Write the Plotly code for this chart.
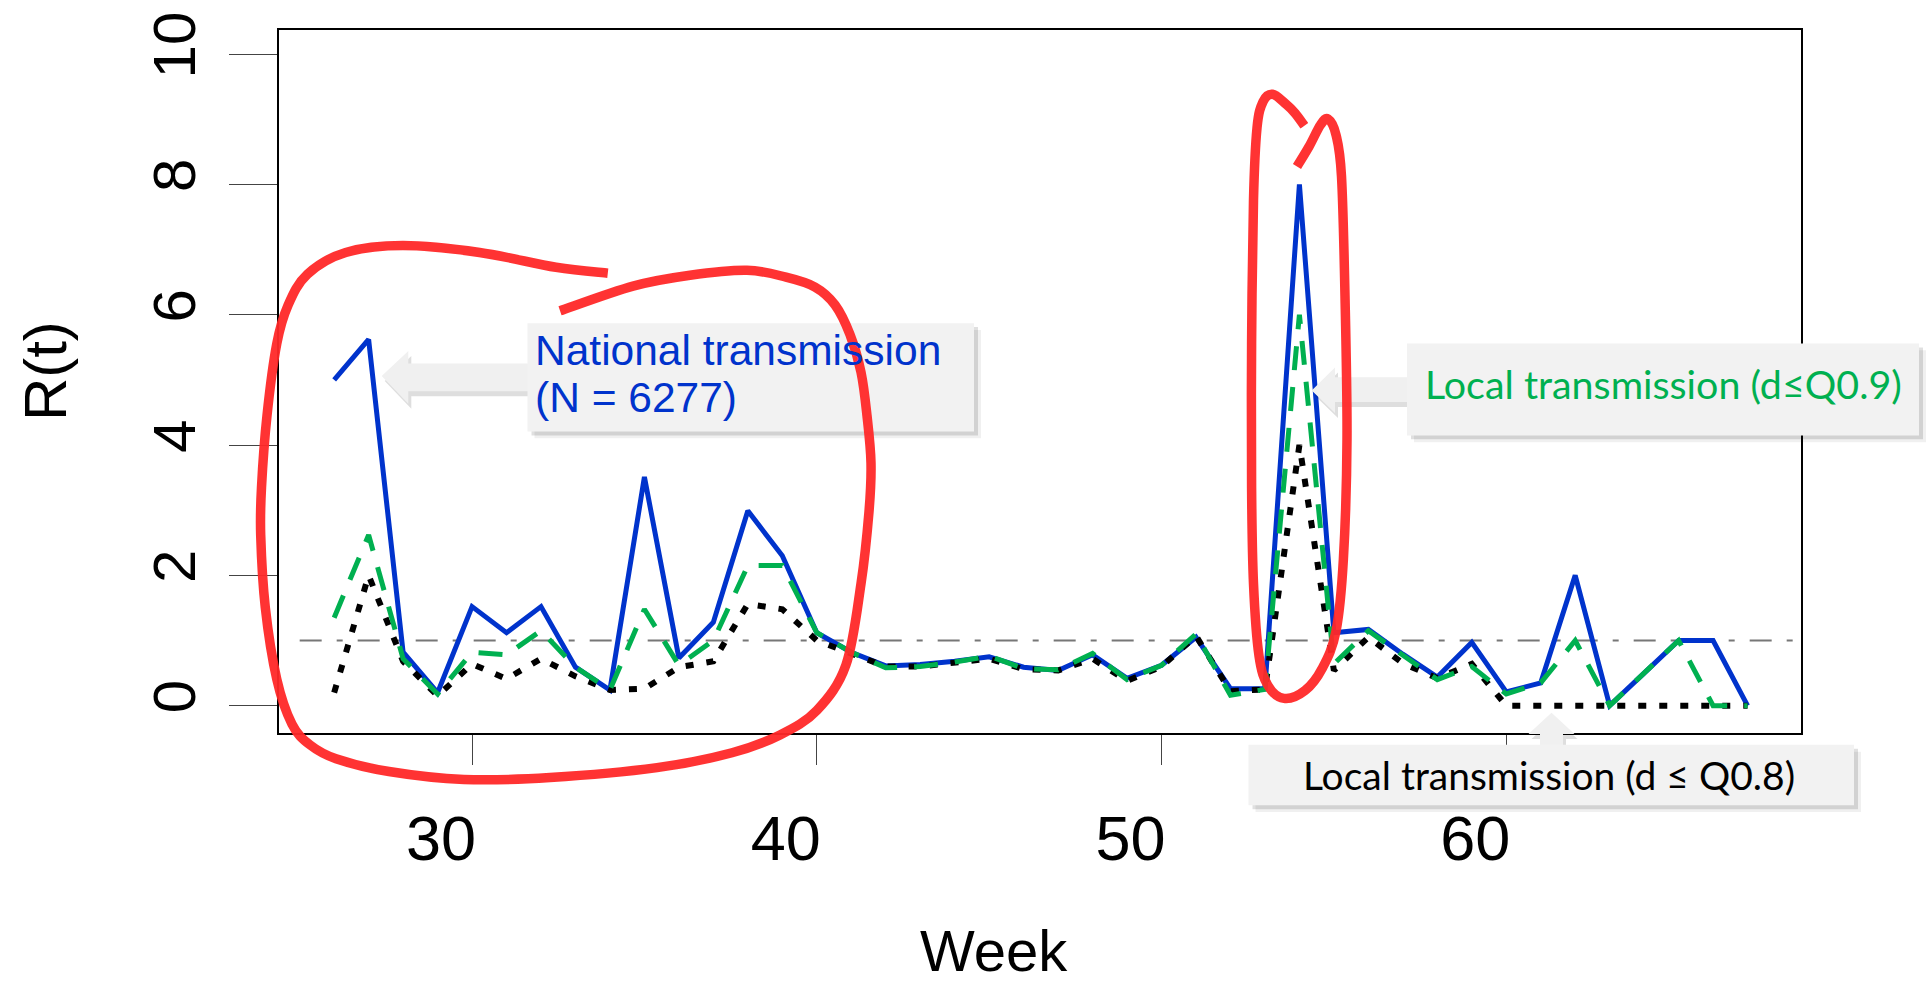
import plotly.graph_objects as go

# ---------------- data ----------------
weeks = list(range(26, 68))
national = [5.0, 5.62, 0.82, 0.20, 1.52, 1.12, 1.52, 0.59, 0.24, 3.51, 0.73, 1.28, 2.99, 2.30, 1.12,
            0.82, 0.61, 0.63, 0.68, 0.75, 0.59, 0.54, 0.78, 0.42, 0.62, 1.05, 0.26, 0.26,
            8.0,
            1.12, 1.17, 0.79, 0.44, 0.97, 0.21, 0.35, 2.0, 0.0, 0.5, 1.0, 1.0, 0.0]
local_q09 = [1.35, 2.62, 0.72, 0.18, 0.82, 0.78, 1.15, 0.59, 0.24, 1.48, 0.62, 1.0, 2.15, 2.15, 1.12,
             0.82, 0.58, 0.60, 0.67, 0.76, 0.57, 0.55, 0.80, 0.40, 0.62, 1.10, 0.16, 0.25,
             6.0,
             0.64, 1.15, 0.77, 0.40, 0.60, 0.18, 0.35, 1.0, 0.0, 0.5, 1.0, 0.0, 0.0]
local_q08 = [0.20, 2.0, 0.68, 0.15, 0.64, 0.41, 0.72, 0.45, 0.24, 0.26, 0.59, 0.68, 1.56, 1.48, 1.0,
             0.79, 0.60, 0.60, 0.66, 0.72, 0.56, 0.54, 0.72, 0.38, 0.60, 1.07, 0.22, 0.25,
             4.0,
             0.54, 1.05, 0.65, 0.42, 0.64, 0.0, 0.0, 0.0, 0.0, 0.0, 0.0, 0.0, 0.0]
x_ticks = [30, 40, 50, 60]
y_ticks = [0, 2, 4, 6, 8, 10]
threshold = 1.0
threshold_span = [25.0, 68.4]

label_national = ["National transmission", "(N = 6277)"]
label_q09 = "Local transmission (d\u2264Q0.9)"
label_q08 = "Local transmission (d \u2264 Q0.8)"

BLUE = "#0033CC"
GREEN = "#00B050"

# ---------------- layout geometry ----------------
W, H = 1928, 988
ML, MR, MT, MB = 279, 127, 22, 255
PW = W - ML - MR
PH = H - MT - MB


def px(x):
    return (x - ML) / PW


def py(y):
    return (H - MB - y) / PH


def poly_path(pts, dx=0, dy=0):
    P = [(px(x + dx), py(y + dy)) for x, y in pts]
    d = "M %.5f,%.5f" % P[0]
    for p in P[1:]:
        d += " L %.5f,%.5f" % p
    return d + " Z"


def smooth_path(pts):
    P = [(px(x), py(y)) for x, y in pts]
    d = "M %.5f,%.5f" % P[0]
    n = len(P)
    for i in range(n - 1):
        p0 = P[i - 1] if i > 0 else P[i]
        p1 = P[i]
        p2 = P[i + 1]
        p3 = P[i + 2] if i + 2 < n else P[i + 1]
        c1 = (p1[0] + (p2[0] - p0[0]) / 6, p1[1] + (p2[1] - p0[1]) / 6)
        c2 = (p2[0] - (p3[0] - p1[0]) / 6, p2[1] - (p3[1] - p1[1]) / 6)
        d += " C %.5f,%.5f %.5f,%.5f %.5f,%.5f" % (c1 + c2 + p2)
    return d


# hand-drawn red highlight strokes (pixel outline of the annotation)
red_loop_left = [(607.8, 268), (556, 262), (479.6, 247), (403, 240), (345.7, 247), (307.4, 269),
                 (288, 300.5), (276.8, 339.3), (267, 412), (261.5, 484.7), (260.7, 533),
                 (265.3, 606), (276.8, 678.6), (292, 724), (310, 745), (336, 759), (389, 772),
                 (464, 780), (550, 778), (657, 768), (732, 753), (780, 735), (817, 710),
                 (846, 664), (861, 582), (869, 509), (871, 460), (867, 412), (861, 368),
                 (850, 330), (835, 300), (815, 282), (786, 272), (747, 265), (690, 270),
                 (633, 281), (560, 306)]
red_loop_peak = [(1304.4, 118.8), (1295, 106), (1286, 97), (1272.6, 87), (1263, 94.5),
                 (1257, 121), (1253.5, 194), (1251.6, 339), (1251.6, 485), (1253.5, 582),
                 (1259, 655), (1268, 685), (1284, 698), (1305, 690), (1322, 668), (1336, 630),
                 (1343.4, 557), (1347, 436), (1345, 291), (1341.5, 170), (1336, 128),
                 (1328, 112), (1320.5, 118), (1309, 140), (1297, 160)]

# callout boxes and arrows (pixel outlines)
box_national = (527.5, 318.5, 974, 428)
box_q09 = (1407, 339, 1919, 432)
box_q08 = (1248.5, 745, 1854, 806)
arrow_national = [(381.7, 372), (408.3, 346.7), (408.3, 359.3), (528, 359.3), (528, 387.3),
                  (408.3, 387.3), (408.3, 400)]
arrow_q09 = [(1311.7, 386.7), (1335, 363.3), (1335, 373.3), (1408, 373.3), (1408, 398.3),
             (1335, 398.3), (1335, 409.3)]
arrow_q08 = [(1551.5, 712.6), (1574.5, 734), (1563, 734), (1563, 746), (1540, 746),
             (1540, 734), (1528.5, 734)]

# ---------------- figure ----------------
fig = go.Figure()
fig.add_trace(go.Scatter(x=weeks, y=national, mode="lines", name="National",
                         line=dict(color=BLUE, width=5)))
fig.add_trace(go.Scatter(x=weeks, y=local_q08, mode="lines", name="Local Q0.8",
                         line=dict(color="black", width=6, dash="8px,13px")))
fig.add_trace(go.Scatter(x=weeks, y=local_q09, mode="lines", name="Local Q0.9",
                         line=dict(color=GREEN, width=5, dash="24px,17px")))

shapes = []
# threshold line
shapes.append(dict(type="line", xref="x", yref="y", x0=threshold_span[0], x1=threshold_span[1],
                   y0=threshold, y1=threshold, layer="below",
                   line=dict(color="#777777", width=2, dash="22px,15px,6px,15px")))


def add_box(b):
    x0, y0, x1, y1 = b
    for off, a in ((7, 0.06), (4, 0.12)):
        shapes.append(dict(type="rect", xref="paper", yref="paper",
                           x0=px(x0 + off), x1=px(x1 + off), y0=py(y1 + off), y1=py(y0 + off),
                           fillcolor="rgba(0,0,0,%.2f)" % a, line=dict(width=0), layer="above"))
    shapes.append(dict(type="rect", xref="paper", yref="paper",
                       x0=px(x0), x1=px(x1), y0=py(y1), y1=py(y0),
                       fillcolor="#F2F2F2", line=dict(width=0), layer="above"))


def add_arrow(pts):
    shapes.append(dict(type="path", xref="paper", yref="paper", path=poly_path(pts, 3, 5),
                       fillcolor="rgba(0,0,0,0.13)", line=dict(width=0), layer="above"))
    shapes.append(dict(type="path", xref="paper", yref="paper", path=poly_path(pts),
                       fillcolor="#F0F0F0", line=dict(width=0), layer="above"))


add_arrow(arrow_national)
add_box(box_national)
add_arrow(arrow_q09)
add_box(box_q09)
add_arrow(arrow_q08)
add_box(box_q08)

for stroke in (red_loop_left, red_loop_peak):
    shapes.append(dict(type="path", xref="paper", yref="paper", path=smooth_path(stroke),
                       line=dict(color="rgba(255,40,40,0.95)", width=9.5), layer="above"))

annotations = [
    dict(text=label_national[0], x=px(533), y=py(346), xref="paper", yref="paper",
         xanchor="left", yanchor="middle", showarrow=False,
         font=dict(family="Liberation Sans, Arial", size=42.5, color=BLUE)),
    dict(text=label_national[1], x=px(533), y=py(393.5), xref="paper", yref="paper",
         xanchor="left", yanchor="middle", showarrow=False,
         font=dict(family="Liberation Sans, Arial", size=42.5, color=BLUE)),
    dict(text=label_q09, x=px(1423), y=py(380), xref="paper", yref="paper",
         xanchor="left", yanchor="middle", showarrow=False,
         font=dict(family="Lato", size=39.4, color=GREEN)),
    dict(text=label_q08, x=px(1301), y=py(775), xref="paper", yref="paper",
         xanchor="left", yanchor="middle", showarrow=False,
         font=dict(family="Lato", size=39, color="black")),
    dict(text="Week", x=px(994), y=py(953), xref="paper", yref="paper",
         xanchor="center", yanchor="middle", showarrow=False,
         font=dict(family="Liberation Sans, Arial", size=58, color="black")),
    dict(text="R(t)", x=px(45), y=py(367), xref="paper", yref="paper", textangle=-90,
         xanchor="center", yanchor="middle", showarrow=False,
         font=dict(family="Liberation Sans, Arial", size=60, color="black")),
]

fig.update_layout(
    width=W, height=H,
    margin=dict(l=ML, r=MR, t=MT, b=MB, pad=0),
    paper_bgcolor="white", plot_bgcolor="white",
    showlegend=False,
    shapes=shapes, annotations=annotations,
    font=dict(family="Liberation Sans, Arial", color="black"),
)
fig.update_xaxes(range=[24.4, 68.55], tickvals=x_ticks, ticks="outside", ticklen=30,
                 tickcolor="#444444", tickwidth=1, showline=True, mirror=True,
                 linecolor="black", linewidth=1.5, showgrid=False, zeroline=False,
                 tickfont=dict(size=63, family="Liberation Sans, Arial", color="black"),
                 ticklabelshift=-31, ticklabelstandoff=20)
fig.update_yaxes(range=[-0.42, 10.37], tickvals=y_ticks, ticks="outside", ticklen=48,
                 tickcolor="#444444", tickwidth=1, showline=True, mirror=True,
                 linecolor="black", linewidth=1.5, showgrid=False, zeroline=False,
                 tickangle=-90,
                 tickfont=dict(size=60, family="Liberation Sans, Arial", color="black"),
                 ticklabelstandoff=10)

fig.write_html("out.html", config={"displayModeBar": False},
               post_script="document.body.style.margin='0';document.body.style.overflow='hidden';")
